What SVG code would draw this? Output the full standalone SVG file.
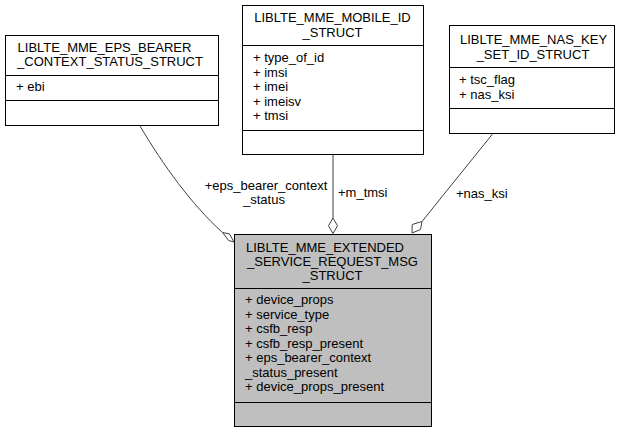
<svg xmlns="http://www.w3.org/2000/svg" width="626" height="433" viewBox="0 0 626 433">
<style>
text{font-family:"Liberation Sans",Arial,sans-serif;font-size:13px;fill:#000}
.c{text-anchor:middle}
.box{fill:#fff;stroke:#000;stroke-width:1}
.main{fill:#bfbfbf;stroke:#000;stroke-width:1}
.sep{stroke:#000;stroke-width:1}
.edge{fill:none;stroke:#404040;stroke-width:1}
.dia{fill:#fff;stroke:#404040;stroke-width:1}
</style>
<rect width="626" height="433" fill="#fff"/>
<g id="connectors">
<path class="edge" d="M140,126 C163,165 192,205 222.5,232.5"/>
<polygon class="dia" points="234,242 228.6,240.5 222.5,232.5 229.5,233.9"/>
<path class="edge" d="M333,155 L333,218"/>
<polygon class="dia" points="333,233.5 328.5,225.8 333,218 337.5,225.8"/>
<path class="edge" d="M492.5,134 L422,221.5"/>
<polygon class="dia" points="412,233 412.2,224.5 422,221.5 420.5,229.5"/>
<text class="c" x="266" y="190">+eps_bearer_context</text>
<text class="c" x="264" y="204">_status</text>
<text x="338" y="197">+m_tmsi</text>
<text x="456" y="198">+nas_ksi</text>
</g>
<g id="node_main">
<rect class="main" x="234.5" y="234.5" width="197" height="192"/>
<line class="sep" x1="234.5" y1="288.5" x2="431.5" y2="288.5"/>
<line class="sep" x1="234.5" y1="402.5" x2="431.5" y2="402.5"/>
<text class="c" x="325" y="252">LIBLTE_MME_EXTENDED</text>
<text class="c" x="332.5" y="266">_SERVICE_REQUEST_MSG</text>
<text class="c" x="332.5" y="280">_STRUCT</text>
<text x="245" y="304">+ device_props</text>
<text x="245" y="318.5">+ service_type</text>
<text x="245" y="333">+ csfb_resp</text>
<text x="245" y="347.5">+ csfb_resp_present</text>
<text x="245" y="362">+ eps_bearer_context</text>
<text x="245" y="376.5">_status_present</text>
<text x="245" y="391">+ device_props_present</text>
</g>
<g id="node_eps">
<rect class="box" x="5.5" y="35.5" width="213" height="90"/>
<line class="sep" x1="5.5" y1="75.5" x2="218.5" y2="75.5"/>
<line class="sep" x1="5.5" y1="100.5" x2="218.5" y2="100.5"/>
<text class="c" x="104.5" y="51.5">LIBLTE_MME_EPS_BEARER</text>
<text class="c" x="110" y="66">_CONTEXT_STATUS_STRUCT</text>
<text x="16" y="91">+ ebi</text>
</g>
<g id="node_mobile">
<rect class="box" x="242.5" y="5.5" width="181" height="149"/>
<line class="sep" x1="242.5" y1="45.5" x2="423.5" y2="45.5"/>
<line class="sep" x1="242.5" y1="130.5" x2="423.5" y2="130.5"/>
<text class="c" x="332.5" y="22">LIBLTE_MME_MOBILE_ID</text>
<text class="c" x="332.5" y="37">_STRUCT</text>
<text x="253" y="62">+ type_of_id</text>
<text x="253" y="76.5">+ imsi</text>
<text x="253" y="91">+ imei</text>
<text x="253" y="105.5">+ imeisv</text>
<text x="253" y="120">+ tmsi</text>
</g>
<g id="node_nas">
<rect class="box" x="449.5" y="25.5" width="165" height="108"/>
<line class="sep" x1="449.5" y1="67.5" x2="614.5" y2="67.5"/>
<line class="sep" x1="449.5" y1="108.5" x2="614.5" y2="108.5"/>
<text class="c" x="533.5" y="44">LIBLTE_MME_NAS_KEY</text>
<text class="c" x="533" y="59">_SET_ID_STRUCT</text>
<text x="459" y="84">+ tsc_flag</text>
<text x="459" y="98.5">+ nas_ksi</text>
</g>
</svg>
